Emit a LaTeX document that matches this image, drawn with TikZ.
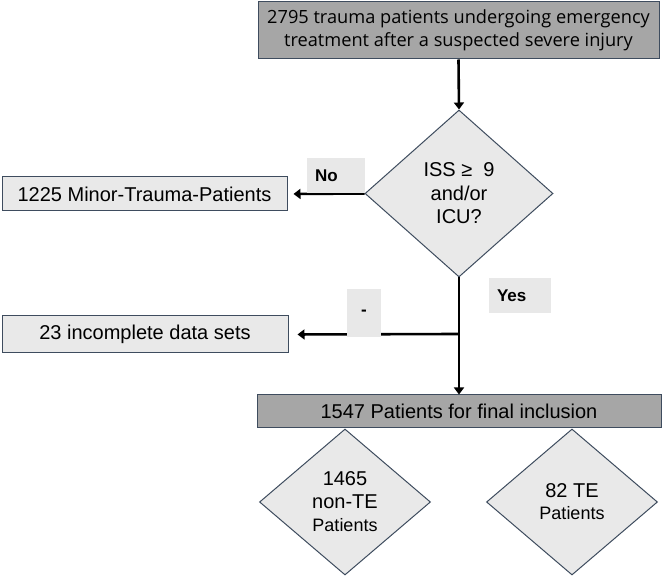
\documentclass[tikz,border=0pt]{standalone}
\usepackage{fontspec}
\setmainfont{Liberation Sans}
\newfontfamily\topfont{Open Sans}
\usetikzlibrary{shapes.geometric,arrows.meta}
\definecolor{edgeC}{HTML}{3E4C5E}
\definecolor{lightF}{HTML}{E9E9E9}
\definecolor{darkF}{HTML}{A6A6A6}
\definecolor{tagF}{HTML}{E8E8E8}
\tikzset{
  box/.style={draw=edgeC, line width=1pt, rectangle, inner sep=0pt, align=center},
  lightbox/.style={box, fill=lightF, font=\fontsize{20}{24}\selectfont},
  darkbox/.style={box, fill=darkF},
  decision/.style={draw=edgeC, line width=1pt, diamond, fill=lightF, inner sep=0pt, align=center},
  tag/.style={fill=tagF, inner sep=0pt, font=\bfseries\fontsize{17}{20}\selectfont},
  flow/.style={line width=2.6pt, -{Triangle[length=7pt,width=10pt]}},
}
\begin{document}
\begin{tikzpicture}[x=1pt,y=-1pt]
\useasboundingbox (0,0) rectangle (662,577);
% boxes
\node[darkbox, minimum width=401pt, minimum height=57pt, font=\topfont\fontsize{18.2}{23}\selectfont] (top) at (458.5,30.5)
  {2795 trauma patients undergoing emergency\\treatment after a suspected severe injury};
\node[decision, minimum width=188pt, minimum height=167pt, font=\fontsize{20}{23.5}\selectfont] (iss) at (459,193.5)
  {ISS \char"2265\ \ 9\\and/or\\ICU?};
\node[lightbox, minimum width=285pt, minimum height=34pt] (minor) at (144.5,194) {1225 Minor-Trauma-Patients};
\node[lightbox, minimum width=286pt, minimum height=37pt] (incomplete) at (145,334.5) {23 incomplete data sets};
\node[darkbox, minimum width=404pt, minimum height=33pt, font=\fontsize{20}{24}\selectfont] (final) at (459,411.5) {1547 Patients for final inclusion};
\node[decision, minimum width=171pt, minimum height=146pt, font=\fontsize{20}{23}\selectfont] (nonte) at (345,502)
  {1465\\non-TE\\{\fontsize{18}{21}\selectfont Patients}};
\node[decision, minimum width=171pt, minimum height=146pt, font=\fontsize{20}{22}\selectfont] (te) at (572,502)
  {82 TE\\{\fontsize{18}{21}\selectfont Patients}};
% connectors
\coordinate (branch) at (459,334);
\draw[flow] (top.south) -- (iss.north);
\draw[flow, shorten >=6pt] (iss.west) -- (minor.east);
\draw[flow] (iss.south) -- (final.north);
\draw[flow, shorten >=9pt] (branch) -- (incomplete.east);
% tags
\node[tag, minimum height=35pt, text width=42pt, inner xsep=8pt, align=left] (no) at (336,175.5) {No};
\node[tag, minimum height=35pt, text width=46pt, inner xsep=8pt, align=left] (yes) at (520,295.5) {Yes};
\node[tag, minimum width=34pt, minimum height=48pt] (minus) at (364,313) {-};
\end{tikzpicture}
\end{document}
